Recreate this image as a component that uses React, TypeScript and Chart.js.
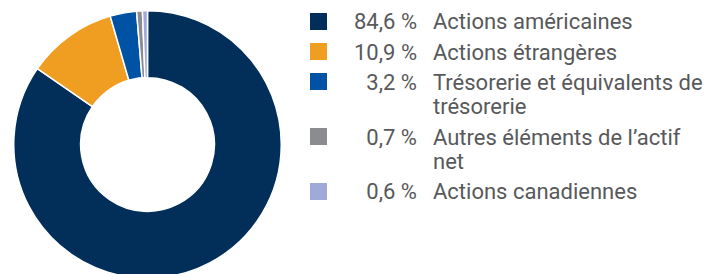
import React, { useEffect, useRef } from "react";
import { Chart, registerables } from "chart.js";

Chart.register(...registerables);

const categories = [
  "Actions américaines",
  "Actions étrangères",
  "Trésorerie et équivalents de trésorerie",
  "Autres éléments de l’actif net",
  "Actions canadiennes",
];
const values = [84.6, 10.9, 3.2, 0.7, 0.6];
const valueLabels = ["84,6 %", "10,9 %", "3,2 %", "0,7 %", "0,6 %"];
const colors = ["#012F5A", "#F09E22", "#0052A5", "#8B8C8F", "#9FAAD9"];

export default function App() {
  const ref = useRef<HTMLCanvasElement | null>(null);
  useEffect(() => {
    if (!ref.current) return;
    const chart = new Chart(ref.current, {
      type: "doughnut",
      data: {
        labels: categories,
        datasets: [
          {
            data: values,
            backgroundColor: colors,
            borderColor: "#ffffff",
            borderWidth: 1.5,
          },
        ],
      },
      options: {
        animation: false,
        responsive: true,
        maintainAspectRatio: false,
        cutout: "50%",
        layout: { padding: 0 },
        plugins: { legend: { display: false }, tooltip: { enabled: false } },
      },
    });
    return () => chart.destroy();
  }, []);

  const font = "Roboto, 'Noto Sans', sans-serif";
  return (
    <div style={{ position: "fixed", left: 0, top: 0, width: 720, height: 274, background: "#fff", overflow: "hidden" }}>
      <div style={{ position: "absolute", left: 13, top: 10, width: 269, height: 269 }}>
        <canvas ref={ref} />
      </div>
      <div style={{ position: "absolute", left: 310, top: 10.25, width: 410, fontFamily: font, fontSize: 22, lineHeight: "24.5px", color: "#58595B" }}>
        {categories.map((c, i) => (
          <div key={c} style={{ display: "flex", alignItems: "flex-start", marginBottom: 5.75 }}>
            <div style={{ width: 17, height: 17, marginTop: 2.5, background: colors[i], flex: "none" }} />
            <div style={{ width: 90, textAlign: "right", flex: "none", whiteSpace: "nowrap" }}>{valueLabels[i]}</div>
            <div style={{ marginLeft: 16, width: 275 }}>{c}</div>
          </div>
        ))}
      </div>
    </div>
  );
}
